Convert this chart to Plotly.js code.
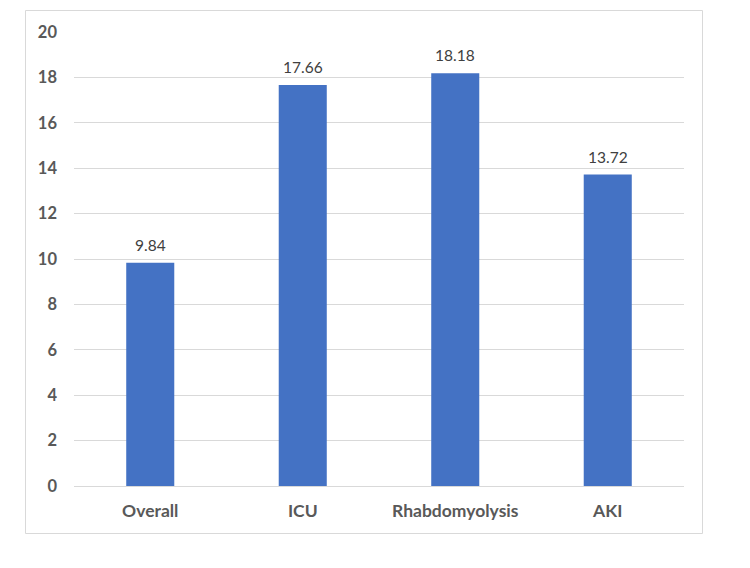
<!DOCTYPE html>
<html>
<head>
<meta charset="utf-8">
<script src="https://cdn.plot.ly/plotly-3.0.1.min.js"></script>
<style>html,body{margin:0;padding:0;background:#fff;}#chart{width:750px;height:568px;}</style>
</head>
<body>
<div id="chart"></div>
<script>
const categories = ["Overall", "ICU", "Rhabdomyolysis", "AKI"];
const values = [9.84, 17.66, 18.18, 13.72];
const valueLabels = ["9.84", "17.66", "18.18", "13.72"];
const yTicks = [0, 2, 4, 6, 8, 10, 12, 14, 16, 18, 20];

const trace = {
  type: "bar",
  x: categories,
  y: values,
  marker: {color: "#4472C4"},
  width: 0.315,
  hoverinfo: "none"
};

const labelAnnotations = categories.map((c, i) => ({
  x: c, y: values[i], xref: "x", yref: "y",
  text: valueLabels[i],
  showarrow: false,
  yanchor: "bottom",
  yshift: 7,
  font: {family: "Lato, 'Open Sans', sans-serif", size: 15.5, color: "#404040"}
}));

const layout = {
  width: 750, height: 568,
  margin: {l: 74, r: 66, t: 32, b: 82},
  paper_bgcolor: "#ffffff",
  plot_bgcolor: "#ffffff",
  showlegend: false,
  font: {family: "Lato, 'Open Sans', sans-serif", color: "#595959"},
  xaxis: {
    type: "category",
    tickfont: {size: 17.5, color: "#595959", family: "Lato, sans-serif", weight: "bold"},
    showgrid: false,
    showline: false,
    ticks: "",
    ticklabelstandoff: 12,
    fixedrange: true
  },
  yaxis: {
    range: [0, 20],
    tickvals: yTicks,
    ticktext: yTicks.map(String),
    tickfont: {size: 16.5, color: "#595959", family: "Lato, sans-serif", weight: "bold"},
    gridcolor: "#d9d9d9",
    gridwidth: 1,
    zeroline: true,
    zerolinecolor: "#d9d9d9",
    zerolinewidth: 1,
    showline: false,
    ticks: "",
    ticklabelstandoff: 16,
    fixedrange: true
  },
  annotations: labelAnnotations,
  shapes: [{
    type: "rect", xref: "paper", yref: "paper",
    x0: (25.5 - 74) / 610, x1: (702.5 - 74) / 610,
    y0: (486 - 533.5) / 454, y1: (486 - 10.5) / 454,
    line: {color: "#d9d9d9", width: 1},
    fillcolor: "rgba(0,0,0,0)",
    layer: "below"
  }]
};

Plotly.newPlot("chart", [trace], layout, {displayModeBar: false, staticPlot: true});
</script>
</body>
</html>
